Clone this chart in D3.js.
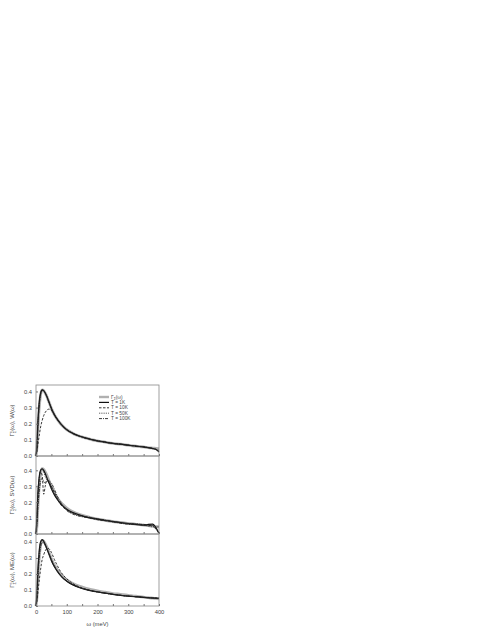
<!DOCTYPE html>
<html>
<head>
<meta charset="utf-8">
<script src="https://cdn.jsdelivr.net/npm/d3@7"></script>
<style>
  body { margin: 0; background: #fff; }
  text { font-family: "Liberation Sans", Arial, sans-serif; fill: #444; }
</style>
</head>
<body>
<div id="chart"></div>
<script>
const omega = [0, 3, 6, 10, 15, 20, 25, 30, 35, 40, 45, 50, 60, 70, 80, 90, 100, 120, 140, 160, 180, 200, 225, 250, 275, 300, 325, 350, 365, 380, 390, 400];

// reference Gamma curve (grey thick)
const gammaRef = [0, 0.05, 0.16, 0.29, 0.38, 0.41, 0.405, 0.39, 0.37, 0.345, 0.32, 0.295, 0.255, 0.225, 0.2, 0.18, 0.163, 0.14, 0.124, 0.112, 0.102, 0.094, 0.086, 0.078, 0.073, 0.067, 0.061, 0.056, 0.052, 0.049, 0.047, 0.045];

// panel 1: W(omega)
const w1K   = [0, 0.06, 0.2, 0.32, 0.39, 0.41, 0.405, 0.39, 0.37, 0.345, 0.32, 0.295, 0.255, 0.225, 0.2, 0.18, 0.163, 0.14, 0.124, 0.112, 0.102, 0.094, 0.086, 0.078, 0.073, 0.067, 0.061, 0.056, 0.052, 0.046, 0.04, 0.025];
const w10K  = [0, 0.03, 0.07, 0.12, 0.18, 0.22, 0.25, 0.27, 0.283, 0.29, 0.29, 0.283, 0.255, 0.225, 0.2, 0.18, 0.163, 0.14, 0.124, 0.112, 0.102, 0.094, 0.086, 0.078, 0.073, 0.067, 0.061, 0.056, 0.052, 0.046, 0.04, 0.028];
const w50K  = [0, 0.06, 0.19, 0.31, 0.385, 0.41, 0.405, 0.39, 0.37, 0.345, 0.32, 0.295, 0.255, 0.225, 0.2, 0.18, 0.163, 0.14, 0.124, 0.112, 0.102, 0.094, 0.086, 0.078, 0.073, 0.067, 0.061, 0.056, 0.052, 0.047, 0.042, 0.03];
const w100K = [0, 0.05, 0.18, 0.3, 0.38, 0.405, 0.405, 0.39, 0.37, 0.345, 0.32, 0.295, 0.255, 0.225, 0.2, 0.18, 0.163, 0.14, 0.124, 0.112, 0.102, 0.094, 0.086, 0.078, 0.073, 0.067, 0.061, 0.056, 0.052, 0.047, 0.042, 0.035];

// panel 2: SVD(omega)
const s1K   = [0, 0.1, 0.25, 0.35, 0.4, 0.41, 0.4, 0.38, 0.355, 0.33, 0.31, 0.285, 0.245, 0.215, 0.19, 0.172, 0.156, 0.135, 0.12, 0.108, 0.1, 0.093, 0.085, 0.078, 0.072, 0.066, 0.06, 0.055, 0.06, 0.062, 0.04, 0.005];
const s10K  = [0, 0.08, 0.22, 0.33, 0.39, 0.37, 0.25, 0.3, 0.34, 0.335, 0.32, 0.3, 0.26, 0.22, 0.185, 0.165, 0.15, 0.13, 0.118, 0.11, 0.1, 0.09, 0.083, 0.08, 0.07, 0.063, 0.062, 0.058, 0.052, 0.055, 0.035, 0.0];
const s50K  = [0, 0.09, 0.24, 0.34, 0.4, 0.41, 0.39, 0.36, 0.34, 0.325, 0.315, 0.3, 0.26, 0.22, 0.19, 0.168, 0.15, 0.128, 0.118, 0.11, 0.104, 0.095, 0.086, 0.076, 0.07, 0.066, 0.064, 0.058, 0.05, 0.045, 0.045, 0.045];
const s100K = [0, 0.06, 0.16, 0.26, 0.33, 0.35, 0.33, 0.32, 0.33, 0.335, 0.33, 0.32, 0.28, 0.235, 0.2, 0.17, 0.148, 0.125, 0.112, 0.105, 0.1, 0.095, 0.088, 0.078, 0.068, 0.062, 0.06, 0.06, 0.056, 0.05, 0.03, 0.01];

// panel 3: ME(omega)
const m1K   = [0, 0.07, 0.21, 0.33, 0.4, 0.415, 0.405, 0.385, 0.36, 0.335, 0.31, 0.285, 0.245, 0.215, 0.19, 0.17, 0.155, 0.132, 0.116, 0.104, 0.095, 0.088, 0.08, 0.073, 0.067, 0.062, 0.058, 0.054, 0.052, 0.05, 0.049, 0.048];
const m10K  = [0, 0.03, 0.08, 0.15, 0.23, 0.29, 0.32, 0.345, 0.358, 0.36, 0.352, 0.335, 0.29, 0.25, 0.215, 0.19, 0.17, 0.14, 0.12, 0.106, 0.096, 0.088, 0.08, 0.073, 0.067, 0.062, 0.058, 0.054, 0.052, 0.05, 0.049, 0.048];
const m50K  = [0, 0.06, 0.2, 0.32, 0.395, 0.41, 0.4, 0.38, 0.358, 0.335, 0.31, 0.285, 0.245, 0.215, 0.19, 0.17, 0.155, 0.132, 0.116, 0.104, 0.095, 0.088, 0.08, 0.073, 0.067, 0.062, 0.058, 0.054, 0.052, 0.05, 0.049, 0.048];
const m100K = [0, 0.05, 0.17, 0.29, 0.37, 0.395, 0.395, 0.38, 0.36, 0.338, 0.315, 0.29, 0.25, 0.218, 0.192, 0.172, 0.156, 0.133, 0.117, 0.105, 0.096, 0.088, 0.08, 0.073, 0.067, 0.062, 0.058, 0.054, 0.052, 0.05, 0.049, 0.048];

const legendLabels = ["Γ_Σ(ω)", "T = 1K", "T = 10K", "T = 50K", "T = 100K"];
const xTicks = [0, 100, 200, 300, 400];
const yTicks = [0, 0.1, 0.2, 0.3, 0.4];

const panels = [
    {name: "W(ω)",   ymax: 0.44, top: 385, bottom: 456, series: [w1K, w10K, w50K, w100K]},
    {name: "SVD(ω)", ymax: 0.49, top: 456, bottom: 534, series: [s1K, s10K, s50K, s100K]},
    {name: "ME(ω)",  ymax: 0.45, top: 534, bottom: 606, series: [m1K, m10K, m50K, m100K]}
];

const styles = [
    {stroke: "#111", width: 1.2, dash: null},
    {stroke: "#222", width: 0.9, dash: "2.5,1.5"},
    {stroke: "#222", width: 0.9, dash: "0.8,1"},
    {stroke: "#222", width: 0.9, dash: "3,1,1,1"}
];

const W = 491, H = 635;
const left = 36, right = 159;

const svg = d3.select("#chart").append("svg")
    .attr("width", W)
    .attr("height", H);

const x = d3.scaleLinear().domain([0, 400]).range([left, right]);

panels.forEach(function (p, pi) {
    let y = d3.scaleLinear().domain([0, p.ymax]).range([p.bottom, p.top]);
    let g = svg.append("g");

    let line = d3.line()
        .x((d, i) => x(omega[i]))
        .y(d => y(d))
        .curve(d3.curveMonotoneX);

    // reference curve (grey)
    g.append("path")
        .datum(gammaRef)
        .attr("d", line)
        .attr("fill", "none")
        .attr("stroke", "#b0b0b0")
        .attr("stroke-width", 2.8);

    p.series.forEach(function (s, si) {
        g.append("path")
            .datum(s)
            .attr("d", line)
            .attr("fill", "none")
            .attr("stroke", styles[si].stroke)
            .attr("stroke-width", styles[si].width)
            .attr("stroke-dasharray", styles[si].dash);
    });

    // frame
    g.append("rect")
        .attr("x", left)
        .attr("y", p.top)
        .attr("width", right - left)
        .attr("height", p.bottom - p.top)
        .attr("fill", "none")
        .attr("stroke", "#888")
        .attr("stroke-width", 0.8);

    // y axis (ticks inside)
    let yAxis = d3.axisLeft(y).tickValues(yTicks).tickFormat(d3.format(".1f"))
        .tickSizeInner(-2).tickSizeOuter(0).tickPadding(4);
    let ya = g.append("g").attr("transform", `translate(${left},0)`).call(yAxis);
    ya.select(".domain").remove();
    ya.selectAll("line").attr("stroke", "#777");
    ya.selectAll("text").style("font-size", "5.8px").style("fill", "#444");

    // x axis ticks at bottom of every panel
    let xAxis = d3.axisBottom(x).tickValues(d3.range(0, 401, 50))
        .tickSizeInner(-2).tickSizeOuter(0).tickPadding(4)
        .tickFormat(d => (pi === 2 && xTicks.includes(d)) ? d : "");
    let xa = g.append("g").attr("transform", `translate(0,${p.bottom})`).call(xAxis);
    xa.select(".domain").remove();
    xa.selectAll("line").attr("stroke", "#777");
    xa.selectAll("text").style("font-size", "5.8px").style("fill", "#444");

    // y title
    let cy = (p.top + p.bottom) / 2;
    let t = svg.append("text")
        .attr("transform", `translate(14,${cy}) rotate(-90)`)
        .attr("text-anchor", "middle")
        .style("font-size", "6px");
    t.append("tspan").text("Γ");
    t.append("tspan").attr("dy", -2).style("font-size", "4px").text("c");
    t.append("tspan").attr("dx", -2).attr("dy", 4).style("font-size", "4px").text("Σ");
    t.append("tspan").attr("dy", -2).text("(ω), " + p.name);
});

// x title
svg.append("text")
    .attr("x", (left + right) / 2)
    .attr("y", 626)
    .attr("text-anchor", "middle")
    .style("font-size", "5.8px")
    .text("ω (meV)");

// legend
let lg = svg.append("g");
let legendStyles = [{stroke: "#b0b0b0", width: 2.4, dash: null}].concat(styles);
legendLabels.forEach(function (lab, i) {
    let ly = 397 + i * 5.4;
    lg.append("line")
        .attr("x1", 99).attr("x2", 109)
        .attr("y1", ly).attr("y2", ly)
        .attr("stroke", legendStyles[i].stroke)
        .attr("stroke-width", legendStyles[i].width)
        .attr("stroke-dasharray", legendStyles[i].dash);
    let tx = lg.append("text")
        .attr("x", 111).attr("y", ly + 1.6)
        .style("font-size", "4.8px");
    if (i === 0) {
        tx.append("tspan").text("Γ");
        tx.append("tspan").attr("dy", 1).style("font-size", "3.4px").text("Σ");
        tx.append("tspan").attr("dy", -1).text("(ω)");
    } else {
        tx.text(lab);
    }
});
</script>
</body>
</html>
